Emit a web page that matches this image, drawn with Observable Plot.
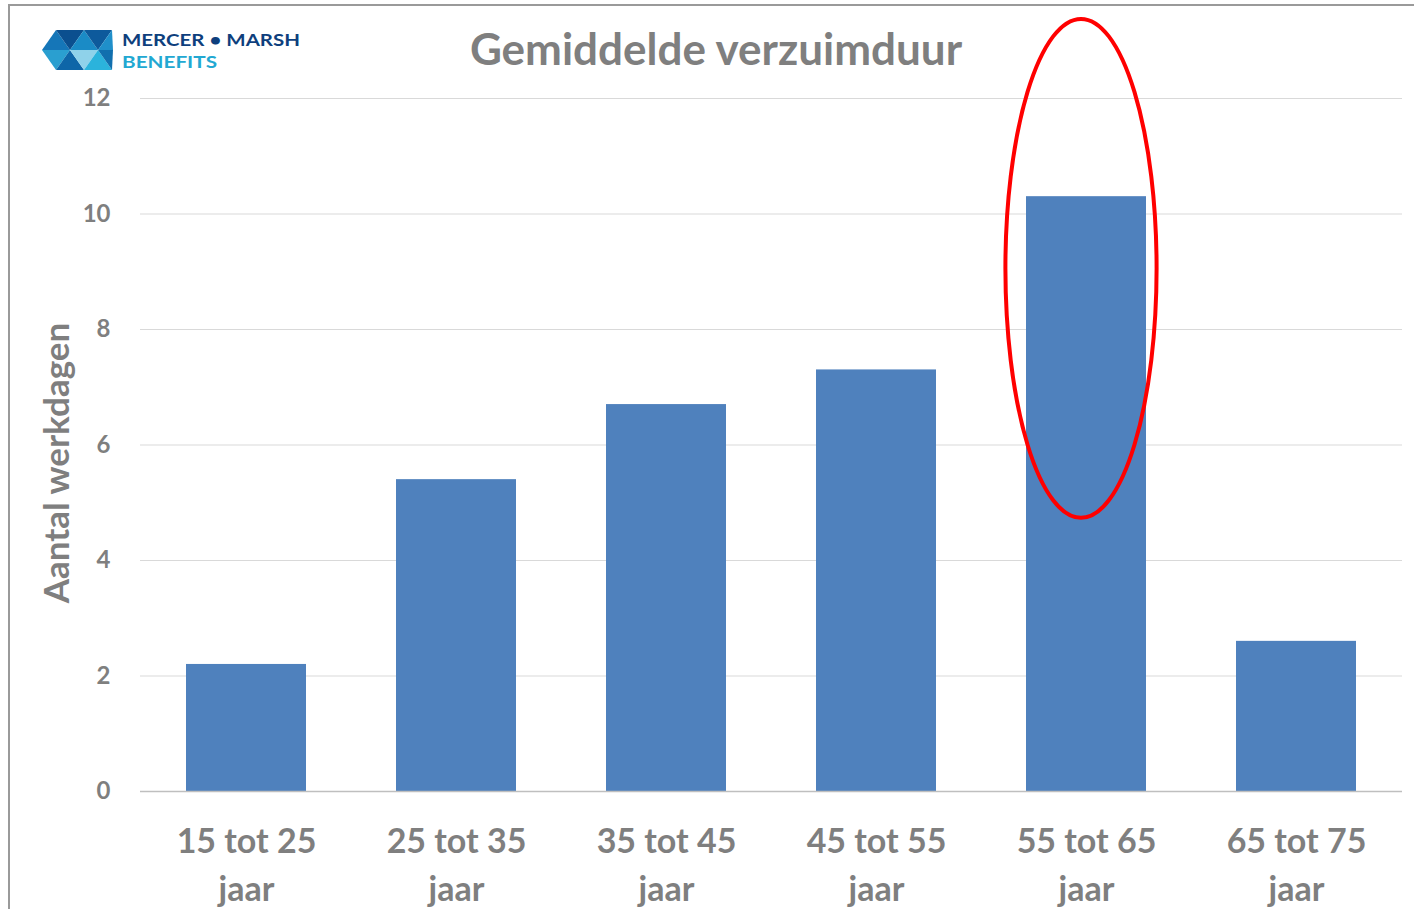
<!DOCTYPE html>
<html>
<head>
<meta charset="utf-8">
<script src="https://cdn.jsdelivr.net/npm/d3@7"></script>
<script src="https://cdn.jsdelivr.net/npm/@observablehq/plot@0.6"></script>
<style>
  html, body { margin: 0; padding: 0; background: #fff; }
  #wrap { position: relative; width: 1414px; height: 909px; overflow: hidden; font-family: Lato, "Open Sans", sans-serif; }
  #frame { position: absolute; left: 8px; top: 4px; width: 1420px; height: 920px; border-left: 2px solid #9a9a9a; border-top: 2px solid #9a9a9a; box-sizing: border-box; }
  #title { position: absolute; left: 0; width: 1432px; top: 22px; text-align: center; font: bold 44px Lato, sans-serif; color: #7f7f7f; }
  #logo { position: absolute; left: 40px; top: 26px; }
  #chart { position: absolute; left: 0; top: 0; }
</style>
</head>
<body>
<div id="wrap">
  <div id="frame"></div>
  <div id="chart"></div>
  <div id="title">Gemiddelde verzuimduur</div>
  <svg id="logo" width="270" height="50" viewBox="0 0 270 50">
    <polygon points="2,24 16,4 30,24" fill="#1576b8"/>
    <polygon points="16,4 44,4 30,24" fill="#0b4f8f"/>
    <polygon points="2,24 30,24 16,44" fill="#2a9fd0"/>
    <polygon points="16,44 30,24 44,44" fill="#0e66a8"/>
    <polygon points="30,24 44,4 58,24" fill="#1a8bc6"/>
    <polygon points="30,24 58,24 44,44" fill="#8fd2ea"/>
    <polygon points="44,4 72,4 58,24" fill="#0d5a9c"/>
    <polygon points="58,24 72,4 73,24" fill="#1f8fca"/>
    <polygon points="44,44 58,24 72,44" fill="#2bb3dc"/>
    <polygon points="58,24 73,24 72,44" fill="#116fae"/>
    <text x="82" y="20" font-family="Lato, sans-serif" font-weight="bold" font-size="17" textLength="178" lengthAdjust="spacingAndGlyphs" fill="#0e3f7d">MERCER • MARSH</text>
    <text x="82" y="42" font-family="Lato, sans-serif" font-weight="bold" font-size="17" textLength="95" lengthAdjust="spacingAndGlyphs" fill="#22a8d2">BENEFITS</text>
  </svg>
</div>
<script>
const categories = ["15 tot 25", "25 tot 35", "35 tot 45", "45 tot 55", "55 tot 65", "65 tot 75"];
const values = [2.2, 5.4, 6.7, 7.3, 10.3, 2.6];
const yTicks = [0, 2, 4, 6, 8, 10, 12];
const unitLabel = "jaar";
const yLabel = "Aantal werkdagen";
const highlight = { category: "55 tot 65", low: 4.73, high: 13.37 };

const data = categories.map((c, i) => ({ category: c, value: values[i] }));

const gray = "#7f7f7f";
const plot = Plot.plot({
  width: 1414,
  height: 909,
  marginTop: 98,
  marginBottom: 118,
  marginLeft: 140,
  marginRight: 12,
  style: { fontFamily: "Lato, sans-serif", color: gray, background: "transparent", overflow: "visible" },
  x: { domain: categories, paddingInner: 0.43, paddingOuter: 0.215, label: null },
  y: { domain: [0, 12], label: null },
  marks: [
    Plot.gridY(yTicks, { stroke: "#d9d9d9", strokeOpacity: 1, strokeWidth: 1 }),
    Plot.barY(data, { x: "category", y: "value", fill: "#4f81bd" }),
    Plot.ruleY([0], { stroke: "#bfbfbf", strokeWidth: 1.5 }),
    Plot.ruleX([0], { frameAnchor: "left", stroke: "#bfbfbf", strokeWidth: 1.5 }),
    Plot.axisY(yTicks, {
      tickSize: 0, tickPadding: 30, fontSize: 24, fontWeight: "bold", fill: gray,
      tickFormat: d => String(d), label: null
    }),
    Plot.text([yLabel], {
      frameAnchor: "left", textAnchor: "middle", dx: -83, dy: 18, rotate: -90,
      fontSize: 35, fontWeight: "bold", fill: gray, text: d => d
    }),
    Plot.axisX({
      tickSize: 0, tickPadding: 28, fontSize: 34, fontWeight: "bold", fill: gray,
      lineHeight: 1.4, label: null,
      tickFormat: d => d + "\n" + unitLabel
    })
  ]
});
document.getElementById("chart").appendChild(plot);

// Red highlight ellipse around the chosen bar, positioned via the plot's scales
const xs = plot.scale("x"), ys = plot.scale("y");
const cx = xs.apply(highlight.category) + xs.bandwidth / 2 - 5;
const yTop = ys.apply(highlight.high), yBot = ys.apply(highlight.low);
d3.select(plot).append("ellipse")
  .attr("cx", cx)
  .attr("cy", (yTop + yBot) / 2)
  .attr("rx", xs.bandwidth * 0.63)
  .attr("ry", (yBot - yTop) / 2)
  .attr("fill", "none")
  .attr("stroke", "#ff0000")
  .attr("stroke-width", 4);
</script>
</body>
</html>
